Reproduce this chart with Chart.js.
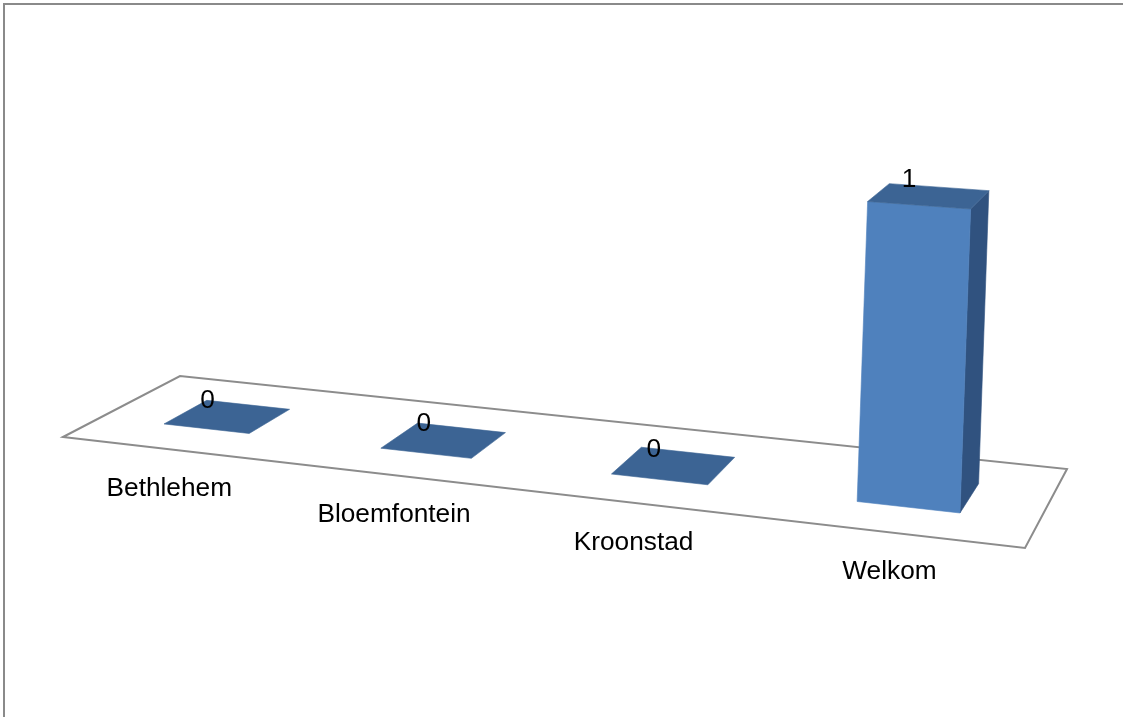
<!DOCTYPE html>
<html>
<head>
<meta charset="utf-8">
<script src="https://cdn.jsdelivr.net/npm/chart.js@4.4.1/dist/chart.umd.min.js"></script>
<style>
  html, body { margin: 0; padding: 0; background: #ffffff; }
  canvas { display: block; }
</style>
</head>
<body>
<canvas id="chart" width="1123" height="717"></canvas>
<script>
// ---- data ----
const categories = ['Bethlehem', 'Bloemfontein', 'Kroonstad', 'Welkom'];
const counts = [0, 0, 0, 1];
const valueAxisMax = 1;

// ---- 3D view of the plot floor (category axis runs front-left -> front-right) ----
const floorCorners = {
  frontLeft: [63, 437],
  frontRight: [1025, 548],
  backRight: [1067, 469],
  backLeft: [180, 376]
};
const unitHeight = 278.3;      // screen px per axis unit at projective weight 1
const verticalLean = 0.035;    // slight sideways tilt of the vertical edges
const barDepthRange = [0.31, 0.69];

const colors = {
  front: '#4F81BD',
  top: '#3C6494',
  side: '#30527F',
  floorLine: '#8C8C8C',
  frame: '#8A8A8A',
  text: '#000000'
};
const labelFont = '25px "Liberation Sans", Arial, sans-serif';
const labelStretch = 1.05;     // labels are set slightly wide

// square-to-quad homography for the floor plane
function buildHomography(q) {
  const [x0, y0] = q.frontLeft, [x1, y1] = q.frontRight,
        [x2, y2] = q.backRight, [x3, y3] = q.backLeft;
  const dx1 = x1 - x2, dx2 = x3 - x2, dx3 = x0 - x1 + x2 - x3;
  const dy1 = y1 - y2, dy2 = y3 - y2, dy3 = y0 - y1 + y2 - y3;
  const det = dx1 * dy2 - dx2 * dy1;
  const g = (dx3 * dy2 - dx2 * dy3) / det;
  const h = (dx1 * dy3 - dx3 * dy1) / det;
  return {
    a: x1 - x0 + g * x1, b: x3 - x0 + h * x3, c: x0,
    d: y1 - y0 + g * y1, e: y3 - y0 + h * y3, f: y0,
    g, h
  };
}
const H = buildHomography(floorCorners);

// u: along category axis (0..1), v: depth (0 front .. 1 back), z: value units
function project(u, v, z) {
  const w = H.g * u + H.h * v + 1;
  return {
    x: (H.a * u + H.b * v + H.c + verticalLean * unitHeight * z) / w,
    y: (H.d * u + H.e * v + H.f - unitHeight * z) / w
  };
}

function fillPoly(ctx, pts, color) {
  ctx.beginPath();
  ctx.moveTo(pts[0].x, pts[0].y);
  for (let i = 1; i < pts.length; i++) ctx.lineTo(pts[i].x, pts[i].y);
  ctx.closePath();
  ctx.fillStyle = color;
  ctx.fill();
  ctx.strokeStyle = color;
  ctx.lineWidth = 0.6;
  ctx.stroke();
}

function drawLabel(ctx, text, x, y) {
  ctx.save();
  ctx.translate(x, y);
  ctx.scale(labelStretch, 1);
  ctx.fillText(text, 0, 0);
  ctx.restore();
}

const perspectiveBars = {
  id: 'perspectiveBars',
  afterDatasetsDraw(chart) {
    const ctx = chart.ctx;
    const area = chart.chartArea;
    const meta = chart.getDatasetMeta(0);
    ctx.save();

    // outer frame (top and left edges are the visible parts)
    ctx.strokeStyle = colors.frame;
    ctx.lineWidth = 2;
    ctx.beginPath();
    ctx.moveTo(4, chart.height + 2);
    ctx.lineTo(4, 4);
    ctx.lineTo(chart.width + 2, 4);
    ctx.stroke();

    // floor
    const f = [project(0, 0, 0), project(1, 0, 0), project(1, 1, 0), project(0, 1, 0)];
    ctx.beginPath();
    ctx.moveTo(f[0].x, f[0].y);
    f.slice(1).forEach(p => ctx.lineTo(p.x, p.y));
    ctx.closePath();
    ctx.fillStyle = '#ffffff';
    ctx.fill();
    ctx.strokeStyle = colors.floorLine;
    ctx.lineWidth = 2;
    ctx.stroke();

    const [v0, v1] = barDepthRange;
    const items = meta.data.map((el, i) => {
      const p = el.getProps(['x', 'y', 'base', 'width'], true);
      const u0 = (p.x - p.width / 2 - area.left) / area.width;
      const u1 = (p.x + p.width / 2 - area.left) / area.width;
      const uc = (p.x - area.left) / area.width;
      const z = (p.base - p.y) / area.height * valueAxisMax;
      return { i, u0, u1, uc, z };
    });

    // bars
    items.forEach(({ u0, u1, z }) => {
      const fl0 = project(u0, v0, 0), fr0 = project(u1, v0, 0),
            br0 = project(u1, v1, 0), bl0 = project(u0, v1, 0);
      const fl1 = project(u0, v0, z), fr1 = project(u1, v0, z),
            br1 = project(u1, v1, z), bl1 = project(u0, v1, z);
      if (z > 0) {
        if (br0.x > fr0.x) fillPoly(ctx, [fr0, br0, br1, fr1], colors.side);
        if (bl0.x < fl0.x) fillPoly(ctx, [bl0, fl0, fl1, bl1], colors.side);
        fillPoly(ctx, [fl0, fr0, fr1, fl1], colors.front);
      }
      fillPoly(ctx, [fl1, fr1, br1, bl1], colors.top);
    });

    // labels
    ctx.font = labelFont;
    ctx.fillStyle = colors.text;
    ctx.textAlign = 'center';
    ctx.textBaseline = 'alphabetic';
    items.forEach(({ i, uc, z }) => {
      const top = project(uc, 0.5, z);
      drawLabel(ctx, String(counts[i]), top.x - 20, top.y - 9);
      const front = project(uc, 0, 0);
      drawLabel(ctx, categories[i], front.x - 1, front.y + 47);
    });

    ctx.restore();
  }
};

new Chart(document.getElementById('chart'), {
  type: 'bar',
  data: {
    labels: categories,
    datasets: [{
      data: counts,
      backgroundColor: 'rgba(0,0,0,0)',
      borderWidth: 0,
      barPercentage: 0.4,
      categoryPercentage: 1.0
    }]
  },
  options: {
    responsive: false,
    animation: false,
    devicePixelRatio: 1,
    layout: { padding: 0 },
    plugins: { legend: { display: false }, tooltip: { enabled: false } },
    scales: {
      x: { display: false },
      y: { display: false, min: 0, max: valueAxisMax }
    }
  },
  plugins: [perspectiveBars]
});
</script>
</body>
</html>
